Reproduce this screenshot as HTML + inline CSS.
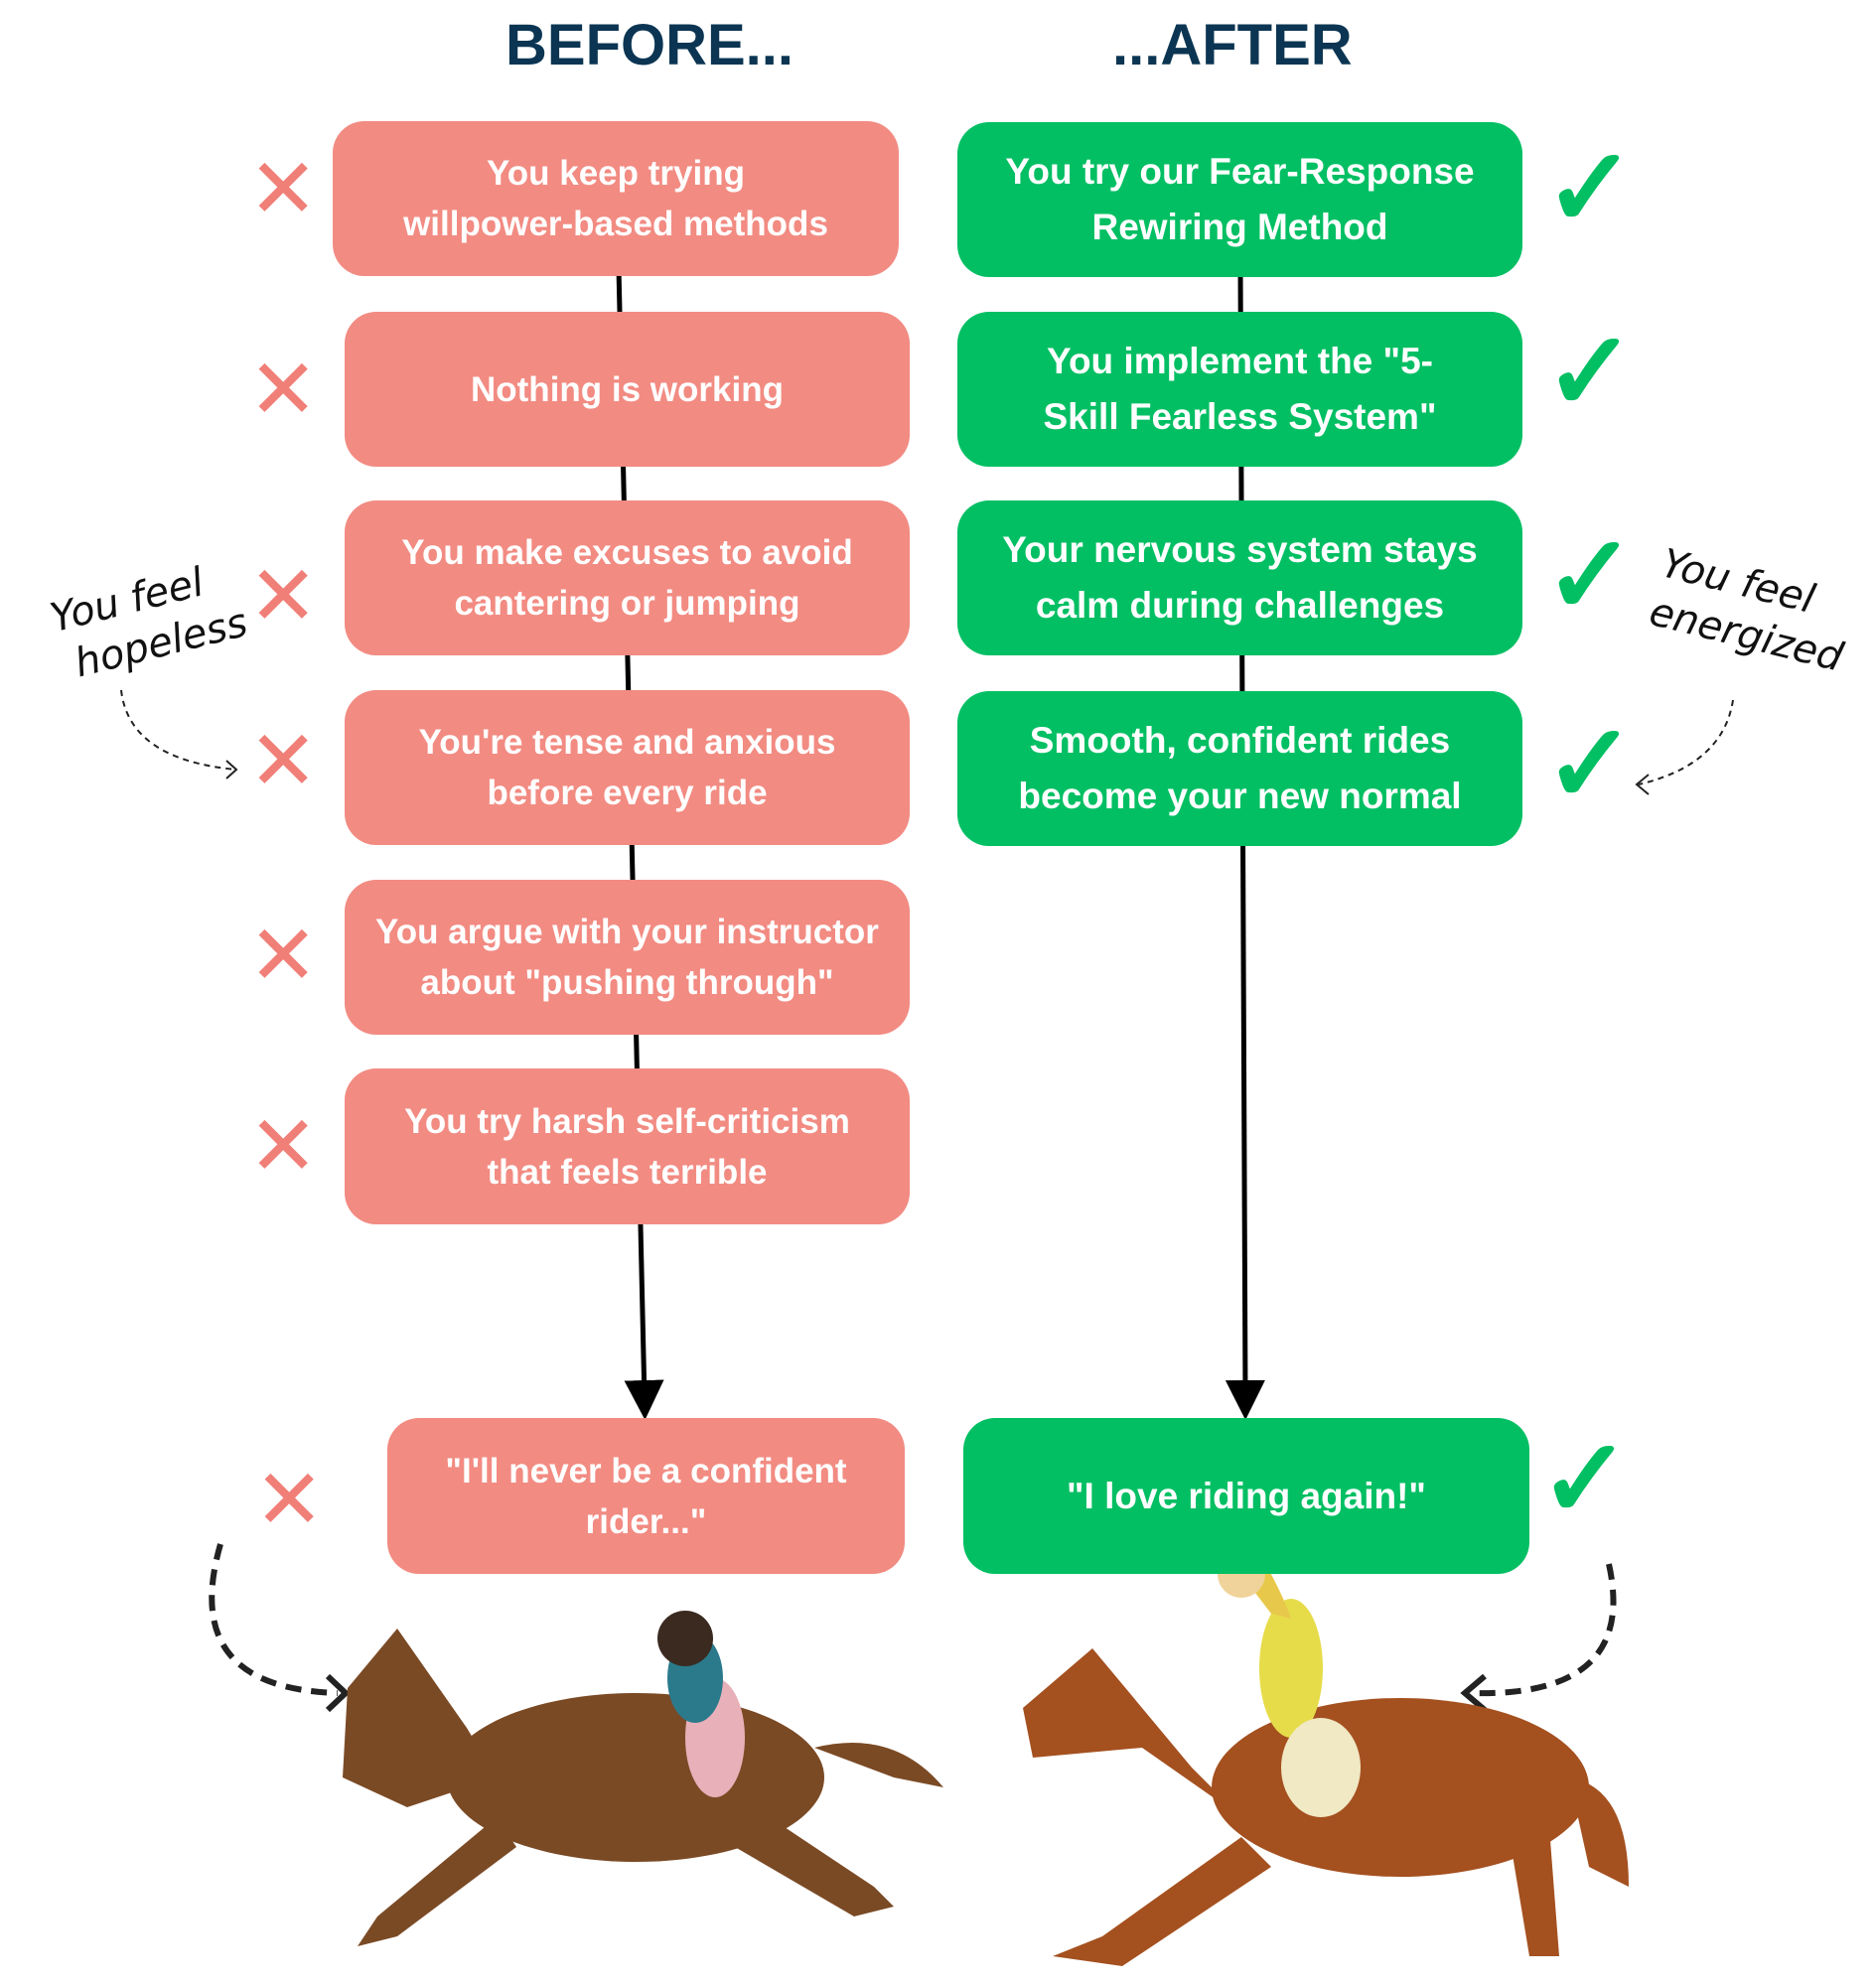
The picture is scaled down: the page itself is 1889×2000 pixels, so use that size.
<!DOCTYPE html>
<html><head><meta charset="utf-8"><style>
body{margin:0;width:1889px;height:2000px;background:#fff;position:relative;overflow:hidden;font-family:"Liberation Sans",sans-serif}
.h{position:absolute;top:12px;font-weight:bold;font-size:58px;color:#0b3552}
.b{position:absolute;border-radius:32px;color:#fff;font-weight:bold;font-size:35px;line-height:51px;display:flex;align-items:center;justify-content:center;text-align:center}
.p{background:#f28b82}.g{background:#02bf63}
.x{position:absolute;color:#f07f78;font-size:84px;line-height:84px;font-weight:300}
.c{position:absolute;color:#02bf63;font-size:110px;line-height:110px;font-weight:bold}
.hand{position:absolute;font-family:"DejaVu Sans",sans-serif;font-style:italic;font-size:40px;color:#111;line-height:50px}
</style></head><body>
<div class="h" style="left:509px">BEFORE...</div>
<div class="h" style="left:1120px">...AFTER</div>
<svg width="1889" height="2000" style="position:absolute;left:0;top:0">
<defs><marker id="a" markerWidth="8" markerHeight="8" refX="4" refY="4" orient="auto"><path d="M0,0L8,4L0,8z" fill="#000"/></marker></defs>
<line x1="623" y1="270" x2="649" y2="1410" stroke="#000" stroke-width="5" marker-end="url(#a)"/>
<line x1="1249" y1="270" x2="1254" y2="1410" stroke="#000" stroke-width="5" marker-end="url(#a)"/>
<path d="M122,695 Q130,765 238,775" stroke="#222" stroke-width="2" stroke-dasharray="6,5" fill="none"/>
<path d="M228,766 L238,775 L228,784" stroke="#222" stroke-width="2" fill="none"/>
<path d="M1745,705 Q1735,770 1650,790" stroke="#222" stroke-width="2" stroke-dasharray="6,5" fill="none"/>
<path d="M1660,780 L1648,790 L1660,800" stroke="#222" stroke-width="2" fill="none"/>
<path d="M222,1555 Q180,1700 340,1705" stroke="#222" stroke-width="6" stroke-dasharray="16,10" fill="none"/>
<path d="M330,1688 L348,1705 L330,1722" stroke="#222" stroke-width="6" fill="none"/>
<path d="M1620,1575 Q1650,1710 1480,1705" stroke="#222" stroke-width="6" stroke-dasharray="16,10" fill="none"/>
<path d="M1495,1688 L1475,1705 L1495,1722" stroke="#222" stroke-width="6" fill="none"/>
<g fill="#7a4a25">
<ellipse cx="640" cy="1790" rx="190" ry="85"/>
<path d="M470,1740 L400,1640 L350,1700 L345,1790 L410,1820 L500,1790z"/>
<path d="M820,1760 Q900,1740 950,1800 L900,1790z"/>
<path d="M500,1830 L380,1930 L360,1960 L400,1950 L520,1860z"/>
<path d="M760,1820 L880,1900 L900,1920 L860,1930 L740,1860z"/>
</g>
<ellipse cx="720" cy="1750" rx="30" ry="60" fill="#e8b0b8"/>
<ellipse cx="700" cy="1690" rx="28" ry="45" fill="#2a7a8c"/>
<circle cx="690" cy="1650" r="28" fill="#3a2a20"/>
<g fill="#a4501f">
<ellipse cx="1410" cy="1800" rx="190" ry="90"/>
<path d="M1200,1780 L1100,1660 L1030,1720 L1040,1770 L1150,1760 L1250,1830z"/>
<path d="M1580,1790 Q1640,1800 1640,1900 L1600,1880z"/>
<path d="M1250,1850 L1110,1950 L1060,1970 L1130,1980 L1280,1880z"/>
<path d="M1520,1850 L1540,1970 L1570,1970 L1560,1840z"/>
</g>
<ellipse cx="1300" cy="1680" rx="32" ry="70" fill="#e6dc4a"/>
<ellipse cx="1330" cy="1780" rx="40" ry="50" fill="#f1e8c4"/>
<path d="M1230,1560 Q1240,1540 1260,1550 Q1290,1600 1300,1630 L1280,1625z" fill="#e8c84a"/>
<circle cx="1250" cy="1585" r="24" fill="#f0d39a"/>
</svg>
<div class="b p" style="left:335px;top:122px;width:570px;height:156px">You keep trying<br>willpower-based methods</div>
<div class="b p" style="left:347px;top:314px;width:569px;height:156px">Nothing is working</div>
<div class="b p" style="left:347px;top:504px;width:569px;height:156px">You make excuses to avoid<br>cantering or jumping</div>
<div class="b p" style="left:347px;top:695px;width:569px;height:156px">You're tense and anxious<br>before every ride</div>
<div class="b p" style="left:347px;top:886px;width:569px;height:156px">You argue with your instructor<br>about "pushing through"</div>
<div class="b p" style="left:347px;top:1076px;width:569px;height:157px">You try harsh self-criticism<br>that feels terrible</div>
<div class="b p" style="left:390px;top:1428px;width:521px;height:157px">"I'll never be a confident<br>rider..."</div>
<div class="b g" style="left:964px;top:123px;width:569px;height:156px;font-size:37px;line-height:56px">You try our Fear-Response<br>Rewiring Method</div>
<div class="b g" style="left:964px;top:314px;width:569px;height:156px;font-size:37px;line-height:56px">You implement the "5-<br>Skill Fearless System"</div>
<div class="b g" style="left:964px;top:504px;width:569px;height:156px;font-size:37px;line-height:56px">Your nervous system stays<br>calm during challenges</div>
<div class="b g" style="left:964px;top:696px;width:569px;height:156px;font-size:37px;line-height:56px">Smooth, confident rides<br>become your new normal</div>
<div class="b g" style="left:970px;top:1428px;width:570px;height:157px;font-size:37px">"I love riding again!"</div>
<div class="x" style="left:250px;top:148px">✕</div>
<div class="x" style="left:250px;top:350px">✕</div>
<div class="x" style="left:250px;top:558px">✕</div>
<div class="x" style="left:250px;top:724px">✕</div>
<div class="x" style="left:250px;top:920px">✕</div>
<div class="x" style="left:250px;top:1112px">✕</div>
<div class="x" style="left:256px;top:1468px">✕</div>
<div class="c" style="left:1555px;top:135px">✓</div>
<div class="c" style="left:1555px;top:320px">✓</div>
<div class="c" style="left:1555px;top:525px">✓</div>
<div class="c" style="left:1555px;top:715px">✓</div>
<div class="c" style="left:1550px;top:1435px">✓</div>
<div class="hand" style="left:55px;top:575px;transform:rotate(-14deg)">You feel<br>&nbsp;hopeless</div>
<div class="hand" style="left:1665px;top:565px;transform:rotate(14deg)">You feel<br>energized</div>
</body></html>
